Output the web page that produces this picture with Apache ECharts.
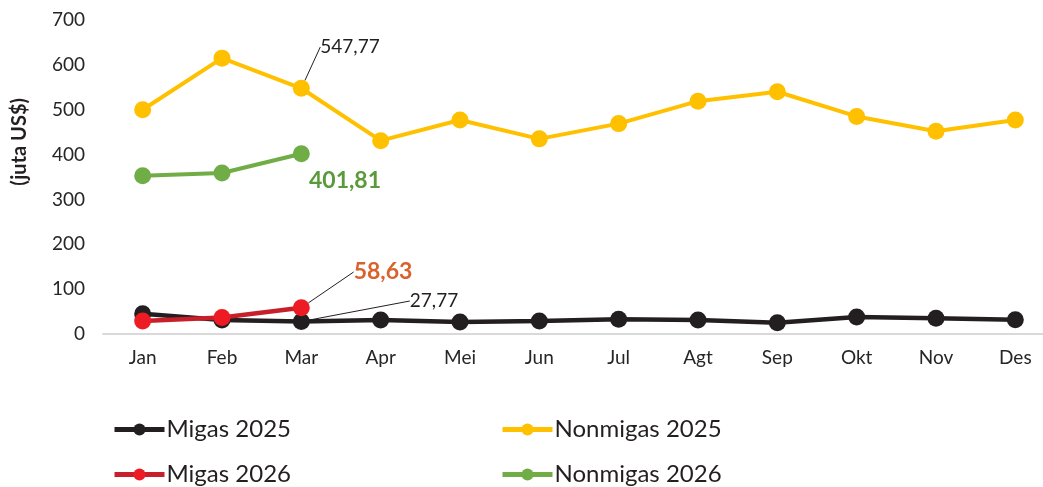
<!DOCTYPE html>
<html>
<head>
<meta charset="utf-8">
<script src="https://cdn.jsdelivr.net/npm/echarts@6/dist/echarts.min.js"></script>
<style>
	html, body { margin: 0; padding: 0; background: #fff; }
	#chart { width: 1043px; height: 487px; }
</style>
</head>
<body>
<div id="chart"></div>
<script>
var months = ['Jan', 'Feb', 'Mar', 'Apr', 'Mei', 'Jun', 'Jul', 'Agt', 'Sep', 'Okt', 'Nov', 'Des'];
var migas2025 = [45, 31, 27.77, 31, 27, 29, 33, 31, 25, 38, 35, 32];
var nonmigas2025 = [500, 615, 547.77, 431, 477, 435, 469, 519, 540, 485, 452, 477];
var migas2026 = [29, 37, 58.63];
var nonmigas2026 = [353, 359, 401.81];
var yTicks = [0, 100, 200, 300, 400, 500, 600, 700];

var FONT = 'Lato, "Open Sans", sans-serif';

function fmt(v) {
	return v.toFixed(2).replace('.', ',');
}

// only one point of a series gets a label
function labelAt(arr, idx, label) {
	return arr.map(function (v, i) {
		if (i !== idx) return v;
		return { value: v, label: label };
	});
}

function legendBox(left, names) {
	return {
		left: left,
		top: 417,
		orient: 'vertical',
		padding: 0,
		itemWidth: 50,
		itemHeight: 15,
		itemGap: 20,
		lineStyle: { width: 5 },
		textStyle: { fontSize: 24, color: '#231f20', fontFamily: FONT, lineHeight: 25, padding: [0, 0, 0, -3] },
		data: names
	};
}

var chart = echarts.init(document.getElementById('chart'));

var option = {
	animation: false,
	textStyle: { fontFamily: FONT },
	grid: { left: 103, top: 20, width: 952, bottom: 153, containLabel: false, outerBoundsMode: 'none' },
	xAxis: {
		type: 'category',
		data: months,
		boundaryGap: true,
		axisLine: { lineStyle: { color: '#d9d9d9', width: 2 } },
		axisTick: { show: false },
		axisLabel: { color: '#262626', fontSize: 19, fontFamily: FONT, margin: 14 }
	},
	yAxis: {
		type: 'value',
		min: yTicks[0],
		max: yTicks[yTicks.length - 1],
		interval: 100,
		axisLine: { show: false },
		axisTick: { show: false },
		splitLine: { show: false },
		axisLabel: { color: '#262626', fontSize: 19, fontFamily: FONT, margin: 18 }
	},
	graphic: [{
		type: 'text',
		left: 10,
		top: 98,
		rotation: Math.PI / 2,
		style: {
			text: '(juta US$)',
			fill: '#231f20',
			font: 'bold 20px ' + FONT
		}
	}],
	legend: [
		legendBox(112, ['Migas 2025', 'Migas 2026']),
		legendBox(500, ['Nonmigas 2025', 'Nonmigas 2026'])
	],
	series: [{
		name: 'Nonmigas 2025',
		type: 'line',
		symbol: 'circle',
		symbolSize: 17,
		z: 2,
		lineStyle: { color: '#ffc000', width: 4 },
		itemStyle: { color: '#ffc000' },
		data: labelAt(nonmigas2025, 2, {
			show: true, formatter: fmt(547.77),
			color: '#231f20', fontSize: 19, fontFamily: FONT
		}),
		labelLine: { show: true, lineStyle: { color: '#231f20', width: 1 } },
		labelLayout: function (p) {
			if (p.dataIndex === 2) return { x: 350, y: 47, align: 'center', verticalAlign: 'middle' };
		}
	}, {
		name: 'Nonmigas 2026',
		type: 'line',
		symbol: 'circle',
		symbolSize: 17,
		z: 3,
		lineStyle: { color: '#70ad47', width: 4 },
		itemStyle: { color: '#70ad47' },
		data: labelAt(nonmigas2026, 2, {
			show: true, formatter: fmt(401.81),
			color: '#5b9a3a', fontSize: 23, fontWeight: 'bold', fontFamily: FONT
		}),
		labelLayout: function (p) {
			if (p.dataIndex === 2) return { x: 345, y: 181, align: 'center', verticalAlign: 'middle' };
		}
	}, {
		name: 'Migas 2025',
		type: 'line',
		symbol: 'circle',
		symbolSize: 17,
		z: 4,
		lineStyle: { color: '#231f20', width: 4.5 },
		itemStyle: { color: '#231f20' },
		data: labelAt(migas2025, 2, {
			show: true, formatter: fmt(27.77),
			color: '#231f20', fontSize: 19, fontFamily: FONT
		}),
		labelLine: { show: true, lineStyle: { color: '#231f20', width: 1 } },
		labelLayout: function (p) {
			if (p.dataIndex === 2) return { x: 434, y: 301, align: 'center', verticalAlign: 'middle' };
		}
	}, {
		name: 'Migas 2026',
		type: 'line',
		symbol: 'circle',
		symbolSize: 17,
		z: 5,
		lineStyle: { color: '#c8202a', width: 4.5 },
		itemStyle: { color: '#ed1c24' },
		data: labelAt(migas2026, 2, {
			show: true, formatter: fmt(58.63),
			color: '#d9622b', fontSize: 23, fontWeight: 'bold', fontFamily: FONT
		}),
		labelLine: { show: true, lineStyle: { color: '#231f20', width: 1 } },
		labelLayout: function (p) {
			if (p.dataIndex === 2) return { x: 383, y: 272, align: 'center', verticalAlign: 'middle' };
		}
	}]
};

chart.setOption(option);
</script>
</body>
</html>
